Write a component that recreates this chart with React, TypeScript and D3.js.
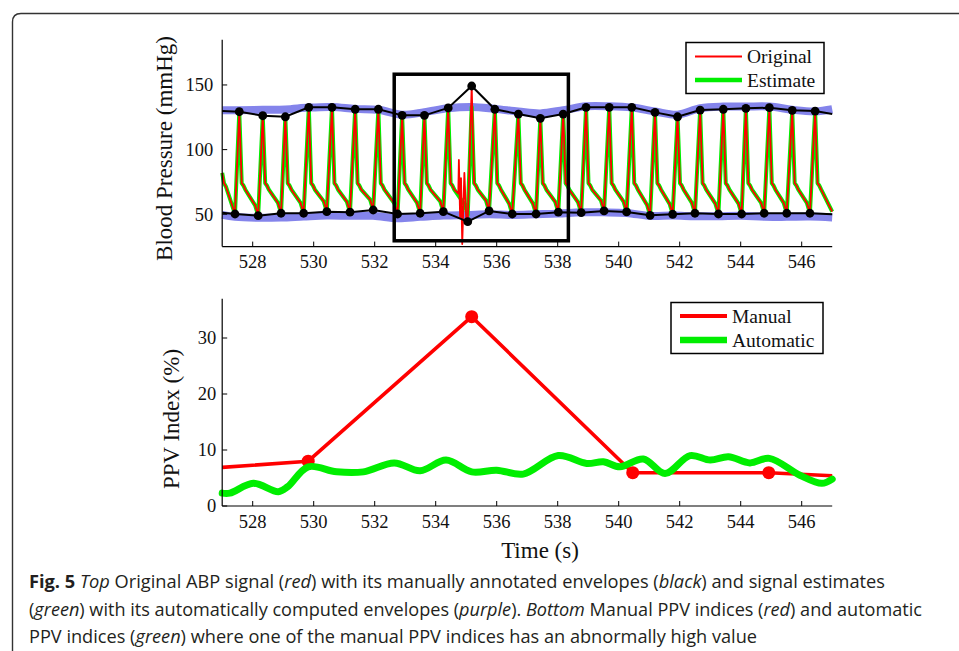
import React from 'react';
import * as d3 from 'd3';

const W = 959;
const H = 651;

// ---------- Top panel data (time in s, pressure in mmHg) ----------
const peakTimes = [527.56, 528.33, 529.07, 529.84, 530.6, 531.36, 532.12, 532.9, 533.63, 534.41, 535.18, 535.94, 536.71, 537.43, 538.18, 538.93, 539.69, 540.43, 541.19, 541.93, 542.67, 543.43, 544.17, 544.94, 545.69, 546.44];
const peakValues = [129.3, 126.2, 125.4, 132.7, 132.7, 131.2, 131.2, 126.5, 126.5, 132.2, 149.2, 131.2, 127.5, 124.2, 127.5, 132.7, 132.7, 132.7, 128.8, 125.4, 130.6, 131.2, 131.9, 132.4, 130.4, 129.8];
const footTimes = [527.42, 528.18, 528.93, 529.67, 530.43, 531.19, 531.95, 532.75, 533.49, 534.25, 535.05, 535.75, 536.51, 537.29, 538.02, 538.77, 539.52, 540.26, 541.03, 541.77, 542.5, 543.27, 544.03, 544.77, 545.51, 546.27];
const footValues = [50.2, 48.9, 50.8, 50.8, 52.0, 51.6, 53.3, 50.2, 50.8, 52.0, 44.3, 52.6, 50.2, 50.2, 51.6, 51.2, 52.6, 51.8, 49.2, 50.0, 50.8, 50.2, 50.2, 50.8, 50.8, 50.8];
const estimatePeakValues = [129.3, 126.2, 125.4, 132.7, 132.7, 131.2, 131.2, 126.5, 126.5, 132.2, 133.0, 131.2, 127.5, 124.2, 127.5, 132.7, 132.7, 132.7, 128.8, 125.4, 130.6, 131.2, 131.9, 132.4, 130.4, 129.8];
const estimateFootValues = [50.2, 48.9, 50.8, 50.8, 52.0, 51.6, 53.3, 50.2, 50.8, 52.0, 49.5, 52.6, 50.2, 50.2, 51.6, 51.2, 52.6, 51.8, 49.2, 50.0, 50.8, 50.2, 50.2, 50.8, 50.8, 50.8];
// decay after each systolic peak: offsets (s) and values (mmHg)
const decayOffsets = [0.08, 0.13, 0.2];
const decayValues = [74, 72.5, 69];
const preFootOffset = 0.1;
const preFootRise = 8;
// start of record (tail of previous beat)
const startTimes = [527, 527.06, 527.12];
const startValues = [82, 74, 71.5];
const endTime = 547;
const endValue = 52;
// artefact in the original signal before beat at 535.18 s
const artefactTimes = [534.74, 534.76, 534.8, 534.83, 534.87, 534.94, 535.0];
const artefactValues = [66, 92, 48, 78, 27, 82, 47];
const artefactBeat = 9;

// automatic envelopes (purple)
const autoUpperTimes = [527, 527.56, 528.33, 529.07, 529.84, 530.6, 531.36, 532.12, 532.9, 533.63, 534.41, 535.18, 535.94, 536.71, 537.43, 538.18, 538.93, 539.69, 540.43, 541.19, 541.93, 542.67, 543.43, 544.17, 544.94, 545.69, 546.44, 547];
const autoUpperValues = [130.5, 130.5, 130.8, 131, 132.5, 133, 131.5, 130.8, 127, 129, 132, 133, 131.5, 129.5, 128, 130.5, 133.5, 133.5, 132.5, 129.5, 127, 132, 133.3, 133.3, 133.3, 130.8, 129.5, 131.2];
const autoLowerTimes = [527, 527.42, 528.18, 528.93, 529.67, 530.43, 531.19, 531.95, 532.75, 533.49, 534.25, 535.05, 535.75, 536.51, 537.29, 538.02, 538.77, 539.52, 540.26, 541.03, 541.77, 542.5, 543.27, 544.03, 544.77, 545.51, 546.27, 547];
const autoLowerValues = [49.5, 48, 47.3, 47.5, 48.3, 49, 48.8, 48.8, 47, 48, 49, 49.5, 50, 49.5, 50, 50.5, 51.5, 51.5, 51, 48.7, 49, 48.5, 48.5, 48.8, 48, 48, 48.2, 47.5];

// manual envelope edges
const edgeTimes = [527, 547];
const manualUpperEdge = [129.8, 127.5];
const manualLowerEdge = [51.2, 50.0];

// highlight rectangle
const highlightTimes = [532.64, 538.35];
const highlightValues = [29.5, 158.3];

const timeTicks = [528, 530, 532, 534, 536, 538, 540, 542, 544, 546];
const topYTicks = [50, 100, 150];

// ---------- Bottom panel data ----------
const manualPpvTimes = [527, 529.82, 535.18, 540.46, 544.92, 547];
const manualPpvValues = [6.9, 8.0, 33.8, 5.95, 5.95, 5.4];
const manualDotIdx = [1, 2, 3, 4];
const autoPpvTimes = [527, 527.25, 528.02, 528.84, 529.15, 529.82, 530.75, 531.63, 532.64, 533.49, 534.34, 535.18, 536.0, 536.87, 538.02, 538.95, 539.5, 540.04, 540.81, 541.52, 542.34, 543.0, 543.6, 544.3, 544.94, 545.94, 546.66, 547];
const autoPpvValues = [2.3, 2.3, 4.05, 2.55, 3.45, 7.0, 6.1, 6.1, 7.7, 6.3, 8.2, 6.1, 6.4, 5.7, 9.0, 7.6, 7.9, 7.0, 8.4, 5.8, 9.0, 8.2, 8.8, 7.7, 8.5, 5.5, 4.05, 4.8];
const bottomYTicks = [0, 10, 20, 30];

// ---------- scales ----------
const x = d3.scaleLinear().domain([527, 547]).range([222.2, 832.2]);
const yTop = d3.scaleLinear().domain([25, 185]).range([246.6, 39.7]);
const yBot = d3.scaleLinear().domain([0, 37]).range([506, 298.8]);

type P = [number, number];

function buildSignal(peaks: number[], feet: number[], withArtefact: boolean): P[] {
  const pts: P[] = startTimes.map((t, i) => [t, startValues[i]] as P);
  for (let i = 0; i < peakTimes.length; i++) {
    pts.push([footTimes[i], feet[i]]);
    pts.push([peakTimes[i], peaks[i]]);
    decayOffsets.forEach((o, k) => pts.push([peakTimes[i] + o, decayValues[k]]));
    if (withArtefact && i === artefactBeat) {
      artefactTimes.forEach((t, k) => pts.push([t, artefactValues[k]]));
    } else if (i + 1 < peakTimes.length) {
      pts.push([footTimes[i + 1] - preFootOffset, feet[i + 1] + preFootRise]);
    }
  }
  pts.push([endTime, endValue]);
  return pts;
}

const original = buildSignal(peakValues, footValues, true);
const estimate = buildSignal(estimatePeakValues, estimateFootValues, false);

const lineTop = d3.line<P>().x(d => x(d[0])).y(d => yTop(d[1]));
const lineTopSmooth = d3.line<P>().x(d => x(d[0])).y(d => yTop(d[1])).curve(d3.curveCatmullRom.alpha(0.5));
const lineBot = d3.line<P>().x(d => x(d[0])).y(d => yBot(d[1]));
const lineBotSmooth = d3.line<P>().x(d => x(d[0])).y(d => yBot(d[1])).curve(d3.curveCatmullRom.alpha(0.5));

const zip = (a: number[], b: number[]): P[] => a.map((v, i) => [v, b[i]] as P);

const upperManual: P[] = [[edgeTimes[0], manualUpperEdge[0]], ...zip(peakTimes, peakValues), [edgeTimes[1], manualUpperEdge[1]]];
const lowerManual: P[] = [[edgeTimes[0], manualLowerEdge[0]], ...zip(footTimes, footValues), [edgeTimes[1], manualLowerEdge[1]]];

const SERIF = '"Liberation Serif", "Times New Roman", serif';
const SANS = '"Open Sans", "Noto Sans", sans-serif';
const TICK_FS = 18.5;

function BottomAxis({ scale, ticks, y0, pad }: any) {
  const [a, b] = scale.range();
  return (
    <g>
      <line x1={a} x2={b} y1={y0} y2={y0} stroke="#000" strokeWidth={1.2} />
      {ticks.map((t: number) => (
        <g key={t}>
          <line x1={scale(t)} x2={scale(t)} y1={y0} y2={y0 - 5} stroke="#000" strokeWidth={1} />
          <text x={scale(t)} y={y0 + pad} textAnchor="middle" fontFamily={SERIF} fontSize={TICK_FS} fill="#111">
            {t}
          </text>
        </g>
      ))}
    </g>
  );
}

function LeftAxis({ scale, ticks, x0, pad }: any) {
  const [a, b] = scale.range();
  return (
    <g>
      <line x1={x0} x2={x0} y1={a} y2={b} stroke="#000" strokeWidth={1.2} />
      {ticks.map((t: number) => (
        <g key={t}>
          <line x1={x0} x2={x0 + 5} y1={scale(t)} y2={scale(t)} stroke="#000" strokeWidth={1} />
          <text x={x0 - pad} y={scale(t) + 6.3} textAnchor="end" fontFamily={SERIF} fontSize={TICK_FS} fill="#111">
            {t}
          </text>
        </g>
      ))}
    </g>
  );
}

export default function App() {
  return (
    <svg width={W} height={H} style={{ position: 'absolute', left: 0, top: 0, background: '#fff' }}>
      <rect x={0} y={0} width={W} height={H} fill="#fff" />
      {/* frame */}
      <path d={`M12.5,${H + 5} L12.5,22 Q12.5,13.5 21,13.5 L${W + 5},13.5`} fill="none" stroke="#333" strokeWidth={1.4} />

      {/* ---------- top panel ---------- */}
      <path d={lineTopSmooth(zip(autoUpperTimes, autoUpperValues))!} fill="none" stroke="#6f6fe8" strokeOpacity={0.85} strokeWidth={8} strokeLinejoin="round" />
      <path d={lineTopSmooth(zip(autoLowerTimes, autoLowerValues))!} fill="none" stroke="#6f6fe8" strokeOpacity={0.85} strokeWidth={8} strokeLinejoin="round" />
      <path d={lineTop(estimate)!} fill="none" stroke="#00ee00" strokeWidth={4} strokeLinejoin="round" />
      <path d={lineTop(original)!} fill="none" stroke="#ff0000" strokeWidth={1.8} strokeLinejoin="round" />
      <path d={lineTop(upperManual)!} fill="none" stroke="#000" strokeWidth={2} />
      <path d={lineTop(lowerManual)!} fill="none" stroke="#000" strokeWidth={2} />
      {peakTimes.map((t, i) => (
        <circle key={'p' + i} cx={x(t)} cy={yTop(peakValues[i])} r={4.4} fill="#000" />
      ))}
      {footTimes.map((t, i) => (
        <circle key={'f' + i} cx={x(t)} cy={yTop(footValues[i])} r={4.4} fill="#000" />
      ))}
      <rect
        x={x(highlightTimes[0])}
        y={yTop(highlightValues[1])}
        width={x(highlightTimes[1]) - x(highlightTimes[0])}
        height={yTop(highlightValues[0]) - yTop(highlightValues[1])}
        fill="none"
        stroke="#000"
        strokeWidth={3.5}
      />
      <BottomAxis scale={x} ticks={timeTicks} y0={yTop(25)} pad={21.5} />
      <LeftAxis scale={yTop} ticks={topYTicks} x0={x(527)} pad={9} />
      <text transform={`translate(172,148.5) rotate(-90)`} textAnchor="middle" fontFamily={SERIF} fontSize={23} fill="#111">
        Blood Pressure (mmHg)
      </text>
      {/* top legend */}
      <rect x={686} y={42.5} width={138} height={51} fill="#fff" stroke="#000" strokeWidth={1.5} />
      <line x1={695} x2={742} y1={56.5} y2={56.5} stroke="#ff0000" strokeWidth={1.8} />
      <line x1={695} x2={742} y1={80} y2={80} stroke="#00ee00" strokeWidth={4.5} />
      <text x={747} y={63} fontFamily={SERIF} fontSize={19.5} fill="#111">Original</text>
      <text x={747} y={87} fontFamily={SERIF} fontSize={19.5} fill="#111">Estimate</text>

      {/* ---------- bottom panel ---------- */}
      <path d={lineBot(zip(manualPpvTimes, manualPpvValues))!} fill="none" stroke="#ff0000" strokeWidth={3.6} strokeLinejoin="round" />
      {manualDotIdx.map(i => (
        <circle key={'m' + i} cx={x(manualPpvTimes[i])} cy={yBot(manualPpvValues[i])} r={6.5} fill="#ff0000" />
      ))}
      <path d={lineBotSmooth(zip(autoPpvTimes, autoPpvValues))!} fill="none" stroke="#00ee00" strokeWidth={7} strokeLinejoin="round" strokeLinecap="round" />
      <BottomAxis scale={x} ticks={timeTicks} y0={yBot(0)} pad={22} />
      <LeftAxis scale={yBot} ticks={bottomYTicks} x0={x(527)} pad={6} />
      <text transform={`translate(179,419) rotate(-90)`} textAnchor="middle" fontFamily={SERIF} fontSize={23} fill="#111">
        PPV Index (%)
      </text>
      <text x={540} y={558} textAnchor="middle" fontFamily={SERIF} fontSize={23} fill="#111">Time (s)</text>
      {/* bottom legend */}
      <rect x={671} y={302.5} width={152} height={51} fill="#fff" stroke="#000" strokeWidth={1.5} />
      <line x1={680} x2={727} y1={316} y2={316} stroke="#ff0000" strokeWidth={4} />
      <line x1={680} x2={727} y1={340} y2={340} stroke="#00ee00" strokeWidth={6.5} />
      <text x={732} y={323} fontFamily={SERIF} fontSize={19.5} fill="#111">Manual</text>
      <text x={732} y={347} fontFamily={SERIF} fontSize={19.5} fill="#111">Automatic</text>

      {/* ---------- caption ---------- */}
      <g fontFamily={SANS} fontSize={17.5} fill="#231f20">
        <text x={29} y={587.5} textLength={856} lengthAdjust="spacingAndGlyphs">
          <tspan fontWeight="bold">Fig. 5</tspan>
          <tspan>{'  '}</tspan>
          <tspan fontStyle="italic">Top</tspan>
          <tspan> Original ABP signal (</tspan>
          <tspan fontStyle="italic">red</tspan>
          <tspan>) with its manually annotated envelopes (</tspan>
          <tspan fontStyle="italic">black</tspan>
          <tspan>) and signal estimates</tspan>
        </text>
        <text x={29} y={615.5} textLength={893} lengthAdjust="spacingAndGlyphs">
          <tspan>(</tspan>
          <tspan fontStyle="italic">green</tspan>
          <tspan>) with its automatically computed envelopes (</tspan>
          <tspan fontStyle="italic">purple</tspan>
          <tspan>). </tspan>
          <tspan fontStyle="italic">Bottom</tspan>
          <tspan> Manual PPV indices (</tspan>
          <tspan fontStyle="italic">red</tspan>
          <tspan>) and automatic</tspan>
        </text>
        <text x={29} y={643} textLength={728} lengthAdjust="spacingAndGlyphs">
          <tspan>PPV indices (</tspan>
          <tspan fontStyle="italic">green</tspan>
          <tspan>) where one of the manual PPV indices has an abnormally high value</tspan>
        </text>
      </g>
    </svg>
  );
}
